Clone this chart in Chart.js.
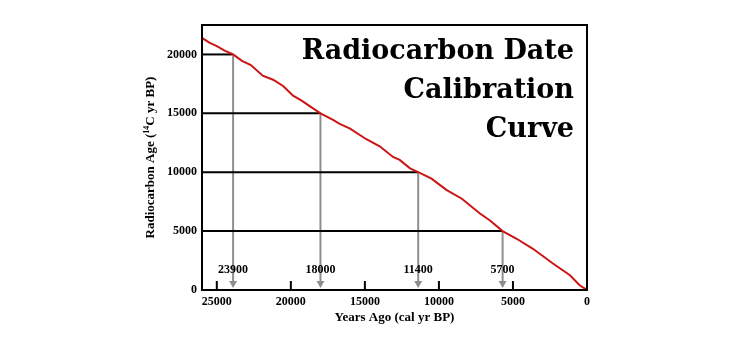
<!DOCTYPE html>
<html>
<head>
<meta charset="utf-8">
<script src="https://cdn.jsdelivr.net/npm/chart.js@4"></script>
<style>
  html, body { margin: 0; padding: 0; background: #fff; }
</style>
</head>
<body>
<canvas id="c" width="730" height="350"></canvas>
<script>
// calibration curve (cal yr BP -> 14C yr BP)
const calYears = [26000, 25500, 25000, 24500, 23900, 23300, 22700, 21900, 21200, 20500, 19850, 19300, 18600, 18000,
                  17150, 16700, 16000, 14900, 14000, 13100, 12650, 11950, 11400, 10500, 9500, 8450, 7230, 6550, 5700,
                  4750, 3650, 2300, 1150, 500, 0];
const c14Ages  = [21400, 21000, 20700, 20350, 20000, 19450, 19100, 18200, 17850, 17300, 16500, 16100, 15500, 15000,
                  14450, 14100, 13700, 12800, 12200, 11300, 11050, 10330, 10000, 9450, 8500, 7750, 6500, 5900, 5000,
                  4350, 3500, 2250, 1250, 400, 0];

// worked examples on the chart
const markCal = [23900, 18000, 11400, 5700];
const markC14 = [20000, 15000, 10000, 5000];

const xTicks = [25000, 20000, 15000, 10000, 5000, 0];
const yTicks = [0, 5000, 10000, 15000, 20000];
const titleLines = ["Radiocarbon Date", "Calibration", "Curve"];

const TICK_FONT = { family: "Liberation Serif", weight: "bold", size: 12 };

const extras = {
  id: "extras",
  beforeDatasetsDraw(chart) {
    const { ctx, chartArea: a, scales: { x, y } } = chart;
    ctx.save();
    markCal.forEach((cal, i) => {
      const px = x.getPixelForValue(cal);
      const py = y.getPixelForValue(markC14[i]);
      // horizontal black line from the axis to the curve
      ctx.strokeStyle = "#000";
      ctx.lineWidth = 2;
      ctx.beginPath();
      ctx.moveTo(a.left, py);
      ctx.lineTo(px, py);
      ctx.stroke();
      // grey arrow down to the time axis
      ctx.strokeStyle = "#8e8e8e";
      ctx.fillStyle = "#8e8e8e";
      ctx.beginPath();
      ctx.moveTo(px, py);
      ctx.lineTo(px, a.bottom - 7);
      ctx.stroke();
      ctx.beginPath();
      ctx.moveTo(px - 4, a.bottom - 9);
      ctx.lineTo(px + 4, a.bottom - 9);
      ctx.lineTo(px, a.bottom - 2);
      ctx.closePath();
      ctx.fill();
    });
    ctx.restore();
  },
  afterDraw(chart) {
    const { ctx, chartArea: a, scales: { x, y } } = chart;
    ctx.save();
    // frame
    ctx.strokeStyle = "#000";
    ctx.lineWidth = 2;
    ctx.strokeRect(a.left, a.top, a.right - a.left, a.bottom - a.top);
    // tick marks pointing into the plot
    xTicks.forEach(v => {
      const px = x.getPixelForValue(v);
      ctx.beginPath();
      ctx.moveTo(px, a.bottom);
      ctx.lineTo(px, a.bottom - 9);
      ctx.stroke();
    });
    // example labels
    ctx.fillStyle = "#000";
    ctx.font = "bold 12px 'Liberation Serif'";
    ctx.textAlign = "center";
    ctx.textBaseline = "middle";
    markCal.forEach(cal => {
      ctx.fillText(String(cal), x.getPixelForValue(cal), y.getPixelForValue(0) - 20);
    });
    // big title
    ctx.font = "bold 27px 'DejaVu Serif'";
    ctx.textAlign = "right";
    ctx.textBaseline = "alphabetic";
    titleLines.forEach((t, i) => ctx.fillText(t, 574, 59 + i * 39));
    // x axis title
    ctx.font = "bold 13px 'Liberation Serif'";
    ctx.textAlign = "center";
    ctx.textBaseline = "middle";
    ctx.fillText("Years Ago (cal yr BP)", (a.left + a.right) / 2, 318);
    // y axis title with superscript 14
    const main = "bold 13px 'Liberation Serif'", sup = "bold 8px 'Liberation Serif'";
    const p1 = "Radiocarbon Age (", p2 = "14", p3 = "C yr BP)";
    ctx.font = main; const w1 = ctx.measureText(p1).width, w3 = ctx.measureText(p3).width;
    ctx.font = sup;  const w2 = ctx.measureText(p2).width;
    ctx.translate(150, (a.top + a.bottom) / 2);
    ctx.rotate(-Math.PI / 2);
    ctx.textAlign = "left";
    ctx.textBaseline = "alphabetic";
    let sx = -(w1 + w2 + w3) / 2;
    ctx.font = main; ctx.fillText(p1, sx, 4); sx += w1;
    ctx.font = sup;  ctx.fillText(p2, sx, -1); sx += w2;
    ctx.font = main; ctx.fillText(p3, sx, 4);
    ctx.restore();
  }
};

new Chart(document.getElementById("c"), {
  type: "line",
  data: {
    datasets: [{
      data: calYears.map((v, i) => ({ x: v, y: c14Ages[i] })),
      borderColor: "#cc1414",
      borderWidth: 2,
      pointRadius: 0,
      tension: 0
    }]
  },
  options: {
    responsive: false,
    animation: false,
    layout: { padding: { top: 25, right: 143, left: 0, bottom: 0 } },
    plugins: { legend: { display: false }, tooltip: { enabled: false } },
    scales: {
      x: {
        type: "linear", reverse: true, min: 0, max: 26000,
        grid: { display: false, drawTicks: false },
        border: { display: false },
        afterBuildTicks: s => { s.ticks = xTicks.map(v => ({ value: v })); },
        afterFit: s => { s.height = 60; },
        ticks: { padding: 5, maxRotation: 0, autoSkip: false, color: "#000", font: TICK_FONT, callback: v => String(v) }
      },
      y: {
        type: "linear", min: 0, max: 22500,
        grid: { display: false, drawTicks: false },
        border: { display: false },
        afterBuildTicks: s => { s.ticks = yTicks.map(v => ({ value: v })); },
        afterFit: s => { s.width = 202; },
        ticks: { padding: 5, autoSkip: false, color: "#000", font: TICK_FONT, callback: v => String(v) }
      }
    }
  },
  plugins: [extras]
});
</script>
</body>
</html>
